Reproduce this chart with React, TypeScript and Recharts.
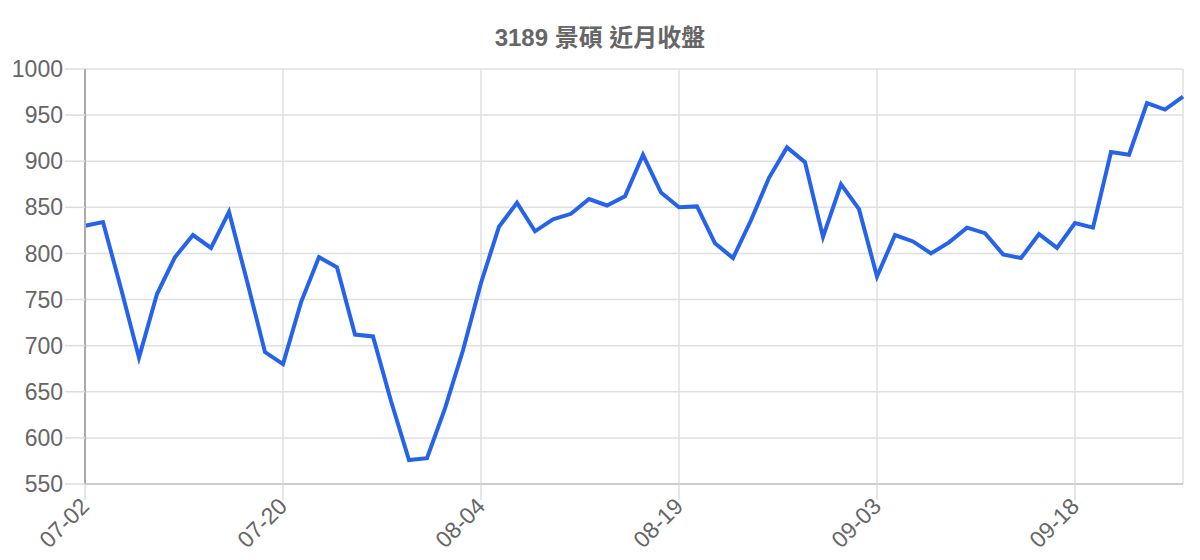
import { LineChart, Line, CartesianGrid, XAxis, YAxis } from "recharts"

// 交易日（MM-DD）
const DATES = [
  "07-02", "07-03", "07-06", "07-07", "07-08", "07-09", "07-10", "07-13", "07-14", "07-15", "07-17",
  "07-20", "07-21", "07-22", "07-23", "07-24", "07-27", "07-28", "07-29", "07-30", "07-31", "08-03",
  "08-04", "08-05", "08-06", "08-07", "08-10", "08-11", "08-12", "08-13", "08-14", "08-17", "08-18",
  "08-19", "08-20", "08-21", "08-24", "08-25", "08-26", "08-27", "08-28", "08-31", "09-01", "09-02",
  "09-03", "09-04", "09-07", "09-08", "09-09", "09-10", "09-11", "09-14", "09-15", "09-16", "09-17",
  "09-18", "09-21", "09-22", "09-23", "09-24", "09-25", "09-28",
]

// 收盤價
const CLOSES = [
  830, 834, 762, 687, 756, 796, 820, 806, 845, 770, 693,
  680, 747, 796, 785, 712, 710, 640, 576, 578, 632, 695,
  768, 829, 855, 824, 837, 843, 859, 852, 862, 907, 866,
  850, 851, 811, 795, 836, 882, 915, 899, 818, 875, 848,
  775, 820, 813, 800, 812, 828, 822, 799, 795, 821, 806,
  833, 828, 910, 907, 963, 956, 970,
]

const Y_TICKS = [550, 600, 650, 700, 750, 800, 850, 900, 950, 1000]

const data = DATES.map((d, i) => ({ date: d, close: CLOSES[i] }))

const FONT = "'Liberation Sans', Arial, 'Noto Sans CJK TC', sans-serif"

const DateTick = ({ x, y, payload }: any) => (
  <text
    x={x}
    y={y}
    transform={`rotate(-45 ${x} ${y})`}
    textAnchor="end"
    dy={8}
    fill="#666"
    fontSize={23}
    fontFamily={FONT}
  >
    {payload.value}
  </text>
)

export default function App() {
  return (
    <div style={{ position: "absolute", left: 0, top: 0, width: 1200, height: 560 }}>
      <div
        style={{
          position: "absolute",
          left: 0,
          top: 18,
          width: 1200,
          textAlign: "center",
          fontFamily: FONT,
          fontWeight: "bold",
          fontSize: 24,
          color: "#666",
        }}
      >
        3189 景碩 近月收盤
      </div>
      <LineChart
        width={1200}
        height={560}
        data={data}
        margin={{ top: 69, right: 17, bottom: 0, left: 0 }}
        style={{ fontFamily: FONT }}
      >
        <CartesianGrid stroke="#e0e0e0" strokeWidth={1.5} />
        <XAxis
          dataKey="date"
          interval={10}
          height={76}
          tickSize={16}
          tickMargin={2}
          tick={<DateTick />}
          tickLine={{ stroke: "#ddd", strokeWidth: 1.5 }}
          axisLine={{ stroke: "#ccc", strokeWidth: 2 }}
        />
        <YAxis
          width={85}
          domain={[550, 1000]}
          ticks={Y_TICKS}
          interval={0}
          tickSize={20}
          tickMargin={2}
          tick={{ fill: "#666", fontSize: 23 }}
          tickLine={{ stroke: "#ddd", strokeWidth: 1.5 }}
          axisLine={{ stroke: "#aaa", strokeWidth: 2 }}
        />
        <Line
          type="linear"
          dataKey="close"
          stroke="#2563eb"
          strokeWidth={4}
          dot={false}
          isAnimationActive={false}
        />
      </LineChart>
    </div>
  )
}
